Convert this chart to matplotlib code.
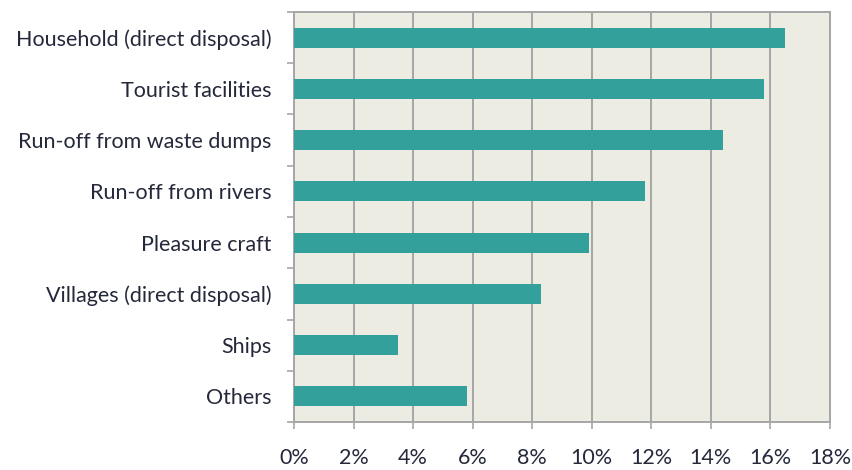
import matplotlib
matplotlib.use("Agg")
import matplotlib.pyplot as plt
from matplotlib.ticker import FuncFormatter

categories = ["Household (direct disposal)", "Tourist facilities", "Run-off from waste dumps",
              "Run-off from rivers", "Pleasure craft", "Villages (direct disposal)", "Ships", "Others"]
values = [16.5, 15.8, 14.4, 11.8, 9.9, 8.3, 3.5, 5.8]
xticks = [0, 2, 4, 6, 8, 10, 12, 14, 16, 18]

plt.rcParams['font.family'] = ['Lato', 'DejaVu Sans']

fig = plt.figure(figsize=(8.53, 4.70), dpi=100)
ax = fig.add_axes([294/853, 1-422/470, (830-294)/853, (422-12)/470])
ax.set_facecolor('#EDECE2')

ypos = list(range(len(categories)))
ax.barh(ypos, values, height=0.39, color='#33A09C', zorder=3)

ax.set_xlim(0, 18)
ax.set_ylim(len(categories)-0.5, -0.5)
ax.set_xticks(xticks)
ax.xaxis.set_major_formatter(FuncFormatter(lambda v, p: f"{int(v)}%"))
ax.set_yticks([i + 0.5 for i in range(-1, len(categories))], minor=False)
ax.set_yticklabels([])
ax.set_yticks(ypos, minor=True)
ax.set_yticklabels(categories, minor=True)

ax.grid(axis='x', color='#A6A6A6', linewidth=1.4, zorder=1)
for s in ax.spines.values():
    s.set_color('#A6A6A6')
    s.set_linewidth(1.4)

ax.tick_params(axis='x', which='major', length=5, width=1.2, color='#A6A6A6',
               labelsize=15.5, labelcolor='#24283A', pad=14)
ax.tick_params(axis='y', which='major', length=5, width=1.2, color='#A6A6A6')
ax.tick_params(axis='y', which='minor', length=0, labelsize=15.5, labelcolor='#24283A', pad=16)

fig.savefig('out.png', dpi=100, facecolor='white')
